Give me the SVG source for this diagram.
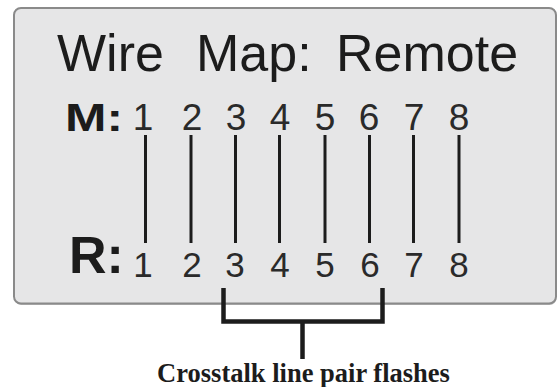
<svg xmlns="http://www.w3.org/2000/svg" width="560" height="387" viewBox="0 0 560 387">
<style>
.title{font-family:"Liberation Sans",Arial,sans-serif;font-size:52px;fill:#1c1c1c}
.lbl{font-family:"Liberation Sans",Arial,sans-serif;font-weight:bold;fill:#1c1c1c}
.dig{font-family:"Liberation Sans",Arial,sans-serif;fill:#2a2a2a;text-anchor:middle}
.wire{stroke:#1c1c1c;stroke-width:3;fill:none}
.brk{stroke:#1c1c1c;stroke-width:4.5;fill:none}
.cap{font-family:"Liberation Serif","Times New Roman",serif;font-weight:bold;font-size:26.5px;fill:#1c1c1c;text-anchor:middle}
</style>
<rect width="560" height="387" fill="#ffffff"/>
<g id="panel">
<rect x="14.5" y="9" width="542" height="296" rx="7" fill="#7a7a7a" opacity="0.5"/>
<rect x="14" y="8" width="542" height="295.5" rx="7" fill="#e6e6e7" stroke="#8a8a8a" stroke-width="2"/>
</g>
<g id="title">
<text class="title" y="71"><tspan x="57">Wire</tspan><tspan x="196">Map:</tspan><tspan x="336">Remote</tspan></text>
</g>
<g id="m-row">
<text class="lbl" x="65" y="131" font-size="38" textLength="58" lengthAdjust="spacingAndGlyphs">M:</text>
<g class="dig" font-size="37">
<text x="143" y="130">1</text>
<text x="192" y="130">2</text>
<text x="236" y="130">3</text>
<text x="280" y="130">4</text>
<text x="325" y="130">5</text>
<text x="369" y="130">6</text>
<text x="414" y="130">7</text>
<text x="459" y="130">8</text>
</g>
</g>
<g id="r-row">
<text class="lbl" x="69" y="273" font-size="52">R:</text>
<g class="dig" font-size="35">
<text x="143" y="277">1</text>
<text x="192" y="277">2</text>
<text x="235" y="277">3</text>
<text x="280" y="277">4</text>
<text x="325" y="277">5</text>
<text x="370" y="277">6</text>
<text x="414" y="277">7</text>
<text x="459" y="277">8</text>
</g>
</g>
<g id="connectors">
<line class="wire" x1="145.5" y1="135" x2="145.5" y2="243"/>
<line class="wire" x1="191" y1="135" x2="191" y2="243"/>
<line class="wire" x1="235.5" y1="135" x2="235.5" y2="243"/>
<line class="wire" x1="279.5" y1="135" x2="279.5" y2="243"/>
<line class="wire" x1="325" y1="135" x2="325" y2="243"/>
<line class="wire" x1="369.5" y1="135" x2="369.5" y2="243"/>
<line class="wire" x1="413.5" y1="135" x2="413.5" y2="243" stroke-width="4.5"/>
<line class="wire" x1="459" y1="135" x2="459" y2="243"/>
<path class="brk" d="M223.5 288 V321.5 H382.5 V288 M302.5 321.5 V359"/>
</g>
<g id="caption">
<text class="cap" x="303.5" y="382">Crosstalk line pair flashes</text>
</g>
</svg>
